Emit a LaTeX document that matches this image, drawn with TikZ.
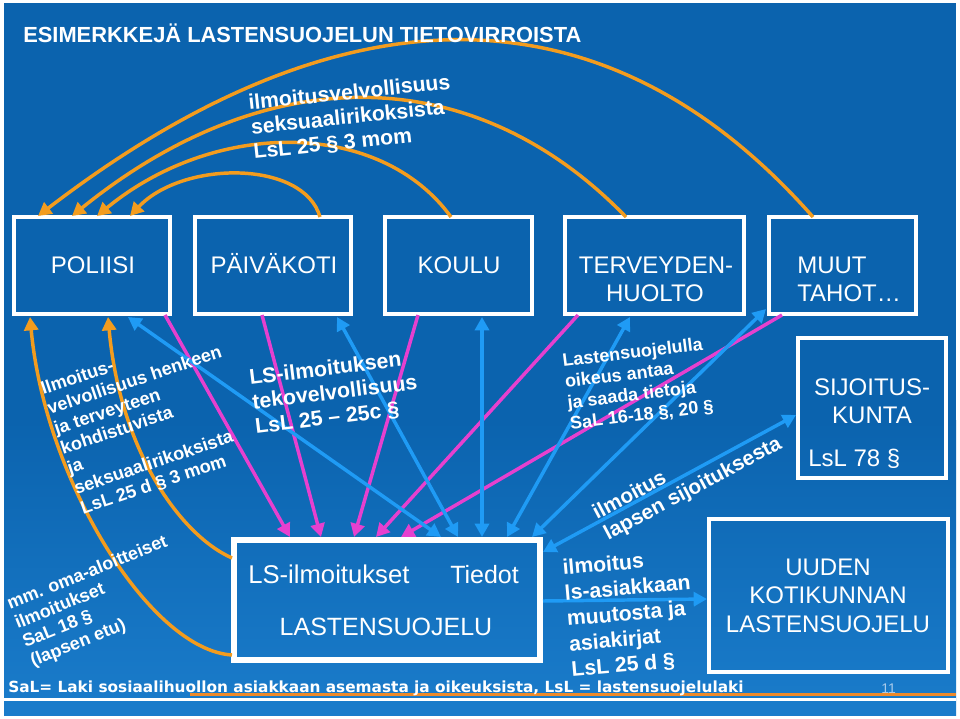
\documentclass[tikz,border=0pt]{standalone}
\usepackage{fontspec}
\setmainfont{Liberation Sans}
\newfontfamily\footfont{DejaVu Sans}
\usetikzlibrary{arrows.meta,calc}
\definecolor{bgblue}{HTML}{0B63AE}
\definecolor{bgblue2}{HTML}{1A7CCB}
\definecolor{org}{HTML}{F39C1E}
\definecolor{mag}{HTML}{E640CF}
\definecolor{lblue}{HTML}{1F9BF5}
\definecolor{footorg}{HTML}{EE8A2A}
\definecolor{pagenum}{HTML}{A9CBEB}
\tikzset{
  box/.style={draw=white, line width=3pt, outer sep=0pt, inner sep=0pt},
  lbl/.style={text=white, inner sep=0pt, anchor=base, font=\fontsize{18}{20}\selectfont},
  lblw/.style={lbl, anchor=base west},
  rt/.style={text=white, inner sep=0pt, anchor=base west},
  tipx/.style={-{Triangle[length=10pt,width=10.5pt]}},
  tipxx/.style={{Triangle[length=10pt,width=10.5pt]}-{Triangle[length=10pt,width=10.5pt]}},
  oline/.style={draw=org, line width=2.6pt, tipx},
  mline/.style={draw=mag, line width=2.6pt, tipx},
  bline/.style={draw=lblue, line width=2.6pt, tipxx},
  bline1/.style={draw=lblue, line width=2.6pt, tipx},
}
\begin{document}
\begin{tikzpicture}[x=0.75pt,y=-0.75pt]
\useasboundingbox (0,0) rectangle (960,718);
% background
\fill[white] (0,0) rectangle (960,718);
\fill[bgblue] (4,3) rectangle (956,715);
\shade[top color=bgblue, bottom color=bgblue2] (4,420) rectangle (956,715);

% boxes
\node[box, minimum width=117pt, minimum height=72.75pt] (poliisi) at (92,265.5) {};
\node[box, minimum width=117pt, minimum height=72.75pt] (paivakoti) at (273,265.5) {};
\node[box, minimum width=110.25pt, minimum height=72.75pt] (koulu) at (458.5,265.5) {};
\node[box, minimum width=134.25pt, minimum height=72.75pt] (terveys) at (654.5,265.5) {};
\node[box, minimum width=110.25pt, minimum height=72.75pt] (muut) at (842.5,265.5) {};
\node[box, minimum width=111pt, minimum height=105pt] (sijoitus) at (872,408) {};
\node[box, line width=3.8pt, minimum width=229.5pt, minimum height=90pt] (ls) at (387,600) {};
\node[box, minimum width=179.25pt, minimum height=114.75pt] (uusi) at (828.5,595.5) {};

% orange arcs at top
\draw[oline] ($(muut.north)+(-29.5,0)$) .. controls (606,-18) and (343,-18) .. ($(poliisi.north west)+(24,-1)$);
\draw[oline] ($(terveys.north)+(-28.5,0)$) .. controls (473,59) and (266,59) .. ($(poliisi.north west)+(58,-1)$);
\draw[oline] ($(koulu.north)+(-7.5,0)$) .. controls (380,119) and (215,119) .. ($(poliisi.north west)+(83,-1)$);
\draw[oline] ($(paivakoti.north)+(47,0)$) .. controls (304,160) and (183,160) .. ($(poliisi.north west)+(116,-1)$);

% orange curves at left
\draw[oline] ($(ls.south west)+(-2,-5)$) .. controls (150,650) and (45,480) .. ($(poliisi.south west)+(16,3)$);
\draw[oline] ($(ls.north west)+(-2,18)$) .. controls (180,535) and (120,450) .. ($(poliisi.south west)+(94,3)$);

% magenta
\draw[mline] ($(poliisi.south east)+(-5,1)$) -- ($(ls.north west)+(56,-3)$);
\draw[mline] ($(paivakoti.south)+(-11,1)$) -- ($(ls.north west)+(87,-3)$);
\draw[mline] ($(koulu.south)+(-40.5,1)$) -- ($(ls.north west)+(120,-3)$);
\draw[mline] ($(terveys.south west)+(13,1)$) -- ($(ls.north west)+(142,-3)$);
\draw[mline] ($(muut.south west)+(13,1)$) -- ($(ls.north west)+(167,-3)$);

% blue
\draw[bline] ($(poliisi.south west)+(114,3)$) -- ($(ls.north west)+(207,-3)$);
\draw[bline] ($(paivakoti.south west)+(142,3)$) -- ($(ls.north west)+(224,-3)$);
\draw[bline] ($(koulu.south west)+(97,3)$) -- ($(ls.north west)+(248,-3)$);
\draw[bline] ($(terveys.south west)+(65,3)$) -- ($(ls.north west)+(273,-3)$);
\draw[bline] ($(muut.south west)+(-3,-5)$) -- ($(ls.north west)+(298,-3)$);
\draw[bline] ($(sijoitus.west)+(-2,7)$) -- ($(ls.north east)+(3,12)$);
\draw[bline1] ($(ls.east)+(3,1)$) -- ($(uusi.west)+(-2,3.5)$);

% title
\node[text=white, inner sep=0pt, anchor=base west, font=\bfseries\fontsize{16.4}{18}\selectfont] (title) at (23,42) {ESIMERKKEJÄ LASTENSUOJELUN TIETOVIRROISTA};

% box labels
\node[lbl] (tpol) at (93,273.6) {POLIISI};
\node[lbl] (tpai) at (274,273.6) {PÄIVÄKOTI};
\node[lbl] (tkou) at (459,273.6) {KOULU};
\node[lbl] (tter1) at (656,273.6) {TERVEYDEN-};
\node[lbl] (tter2) at (655,301) {HUOLTO};
\node[lblw] (tmuu1) at (797,273.6) {MUUT};
\node[lblw] (tmuu2) at (797,301) {TAHOT…};
\node[lbl] (tsij1) at (872,395.6) {SIJOITUS-};
\node[lbl] (tsij2) at (872,423) {KUNTA};
\node[lblw] (tsij3) at (808,466) {LsL 78 §};
\node[lblw, font=\fontsize{19.25}{20}\selectfont] (tls1) at (248,583) {LS-ilmoitukset};
\node[lblw, font=\fontsize{18.75}{20}\selectfont] (tls2) at (450,583) {Tiedot};
\node[lbl, font=\fontsize{18.75}{20}\selectfont] (tls3) at (386,635) {LASTENSUOJELU};
\node[lbl] (tuu1) at (828,575) {UUDEN};
\node[lbl] (tuu2) at (828,603) {KOTIKUNNAN};
\node[lbl] (tuu3) at (828,632) {LASTENSUOJELU};

% rotated labels
\begin{scope}[shift={(249,110)}, rotate=6, transform shape, every node/.style={rt, font=\bfseries\fontsize{15.9}{18}\selectfont}]
\node (a1) at (0,0) {ilmoitusvelvollisuus};
\node (a2) at (0,24.5) {seksuaalirikoksista};
\node (a3) at (0,49) {LsL 25 § 3 mom};
\end{scope}

\begin{scope}[shift={(43,395)}, rotate=18.5, transform shape, every node/.style={rt, font=\bfseries\fontsize{13.6}{16}\selectfont}]
\node (b1) at (0,0) {Ilmoitus-};
\node (b2) at (0,21) {velvollisuus henkeen};
\node (b3) at (0,42) {ja terveyteen};
\node (b4) at (0,63) {kohdistuvista};
\node (b5) at (0,84) {ja};
\node (b6) at (0,105) {seksuaalirikoksista};
\node (b7) at (0,126) {LsL 25 d § 3 mom};
\end{scope}

\begin{scope}[shift={(250,385)}, rotate=7, transform shape, every node/.style={rt, font=\bfseries\fontsize{16}{18}\selectfont}]
\node (c1) at (0,0) {LS-ilmoituksen};
\node (c2) at (0,24.5) {tekovelvollisuus};
\node (c3) at (0,49) {LsL 25 – 25c §};
\end{scope}

\begin{scope}[shift={(563,367)}, rotate=7, transform shape, every node/.style={rt, font=\bfseries\fontsize{13.5}{16}\selectfont}]
\node (d1) at (0,0) {Lastensuojelulla};
\node (d2) at (0,21) {oikeus antaa};
\node (d3) at (0,42) {ja saada tietoja};
\node (d4) at (0,63) {SaL 16-18 §, 20 §};
\end{scope}

\begin{scope}[shift={(597,520)}, rotate=28, transform shape, every node/.style={rt, font=\bfseries\fontsize{15.6}{18}\selectfont}]
\node (e1) at (0,0) {ilmoitus};
\node (e2) at (0,23.5) {lapsen sijoituksesta};
\end{scope}

\begin{scope}[shift={(563,575)}, rotate=5, transform shape, every node/.style={rt, font=\bfseries\fontsize{15.9}{18}\selectfont}]
\node (f1) at (0,0) {ilmoitus};
\node (f2) at (0,25.5) {ls-asiakkaan};
\node (f3) at (0,51) {muutosta ja};
\node (f4) at (0,76.5) {asiakirjat};
\node (f5) at (0,102) {LsL 25 d §};
\end{scope}

\begin{scope}[shift={(10,610)}, rotate=22, transform shape, every node/.style={rt, font=\bfseries\fontsize{13.5}{15}\selectfont}]
\node (g1) at (0,0) {mm. oma-aloitteiset};
\node (g2) at (0,20.5) {ilmoitukset};
\node (g3) at (0,41) {SaL 18 §};
\node (g4) at (0,61.5) {(lapsen etu)};
\end{scope}

% footer
\draw[footorg, line width=2.6pt] (190,694.5) -- (956,694.5);
\draw[white, line width=1.8pt] (4,699.5) -- (956,699.5);
\node[rt, font=\footfont\bfseries\fontsize{11.5}{13}\selectfont] (foot) at (8,692) {SaL= Laki sosiaalihuollon asiakkaan asemasta ja oikeuksista, LsL = lastensuojelulaki};
\node[rt, text=pagenum, font=\fontsize{10.5}{12}\selectfont] (page) at (881,693) {11};
\end{tikzpicture}
\end{document}
